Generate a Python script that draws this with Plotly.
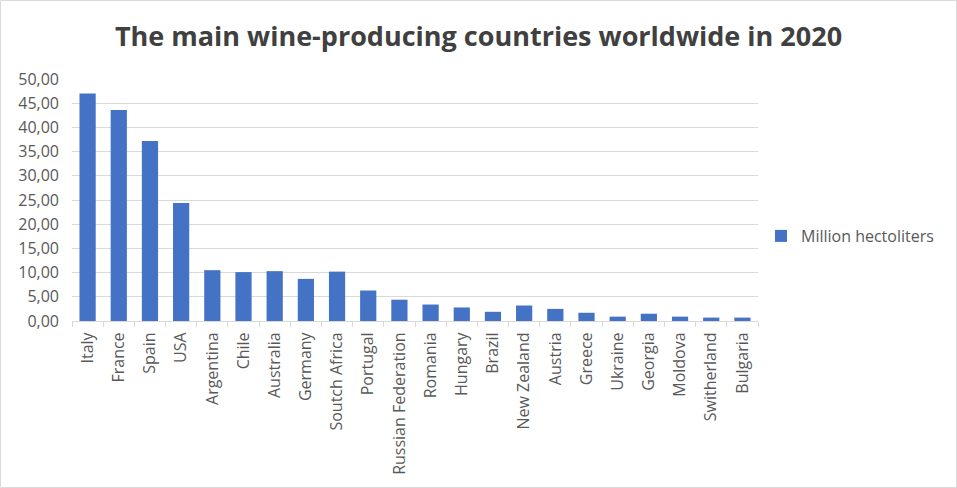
import plotly.graph_objects as go

countries = ["Italy", "France", "Spain", "USA", "Argentina", "Chile", "Australia", "Germany",
             "Soutch Africa", "Portugal", "Russian Federation", "Romania", "Hungary", "Brazil",
             "New Zealand", "Austria", "Greece", "Ukraine", "Georgia", "Moldova", "Switherland", "Bulgaria"]
production = [47.0, 43.6, 37.2, 24.4, 10.5, 10.1, 10.3, 8.7,
              10.2, 6.3, 4.4, 3.4, 2.8, 1.9,
              3.2, 2.5, 1.7, 0.9, 1.5, 0.9, 0.7, 0.7]
series_name = "Million hectoliters"
title_text = "The main wine-producing countries worldwide in 2020"

W, H = 957, 488
ml, mr, mt, mb = 72, 199, 79, 167
pw, ph = W - ml - mr, H - mt - mb

fig = go.Figure()
fig.add_trace(go.Bar(
    x=countries, y=production, name=series_name,
    marker=dict(color="#4472C4", line=dict(width=0)),
))

fig.update_layout(
    width=W, height=H,
    margin=dict(l=ml, r=mr, t=mt, b=mb),
    paper_bgcolor="white", plot_bgcolor="white",
    separators=",.",
    bargap=0.48,
    showlegend=True,
    font=dict(family="Open Sans, sans-serif", color="#595959", size=16),
    title=dict(text="<b>" + title_text + "</b>", x=0.5, xanchor="center", y=1 - 37 / H, yanchor="middle",
               xref="container",
               font=dict(family="Open Sans, sans-serif", size=27, color="#404040")),
    legend=dict(x=1 + (761 - 758) / pw, xanchor="left", y=0.5 + (321 - 236 - ph / 2) / ph, yanchor="middle",
                font=dict(size=16, color="#595959"), itemwidth=30, bgcolor="rgba(0,0,0,0)"),
    xaxis=dict(tickangle=-90, showgrid=False, showline=True, linecolor="#d9d9d9", linewidth=1,
               ticks="outside", tickson="boundaries", ticklen=5, tickcolor="#d9d9d9",
               ticklabelstandoff=4,
               tickfont=dict(size=16, color="#595959")),
    yaxis=dict(range=[0, 50], dtick=5, tickformat=".2f", showgrid=True, gridcolor="#d9d9d9",
               gridwidth=1, zeroline=False, showline=False, ticks="",
               ticklabelstandoff=12,
               tickfont=dict(size=16, color="#595959")),
    shapes=[dict(type="rect", xref="paper", yref="paper",
                 x0=(0.5 - ml) / pw, x1=(W - 0.5 - ml) / pw,
                 y0=-(mb - 0.5) / ph, y1=1 + (mt - 0.5) / ph,
                 line=dict(color="#d9d9d9", width=1), layer="below")],
)

fig.write_html("out.html")
